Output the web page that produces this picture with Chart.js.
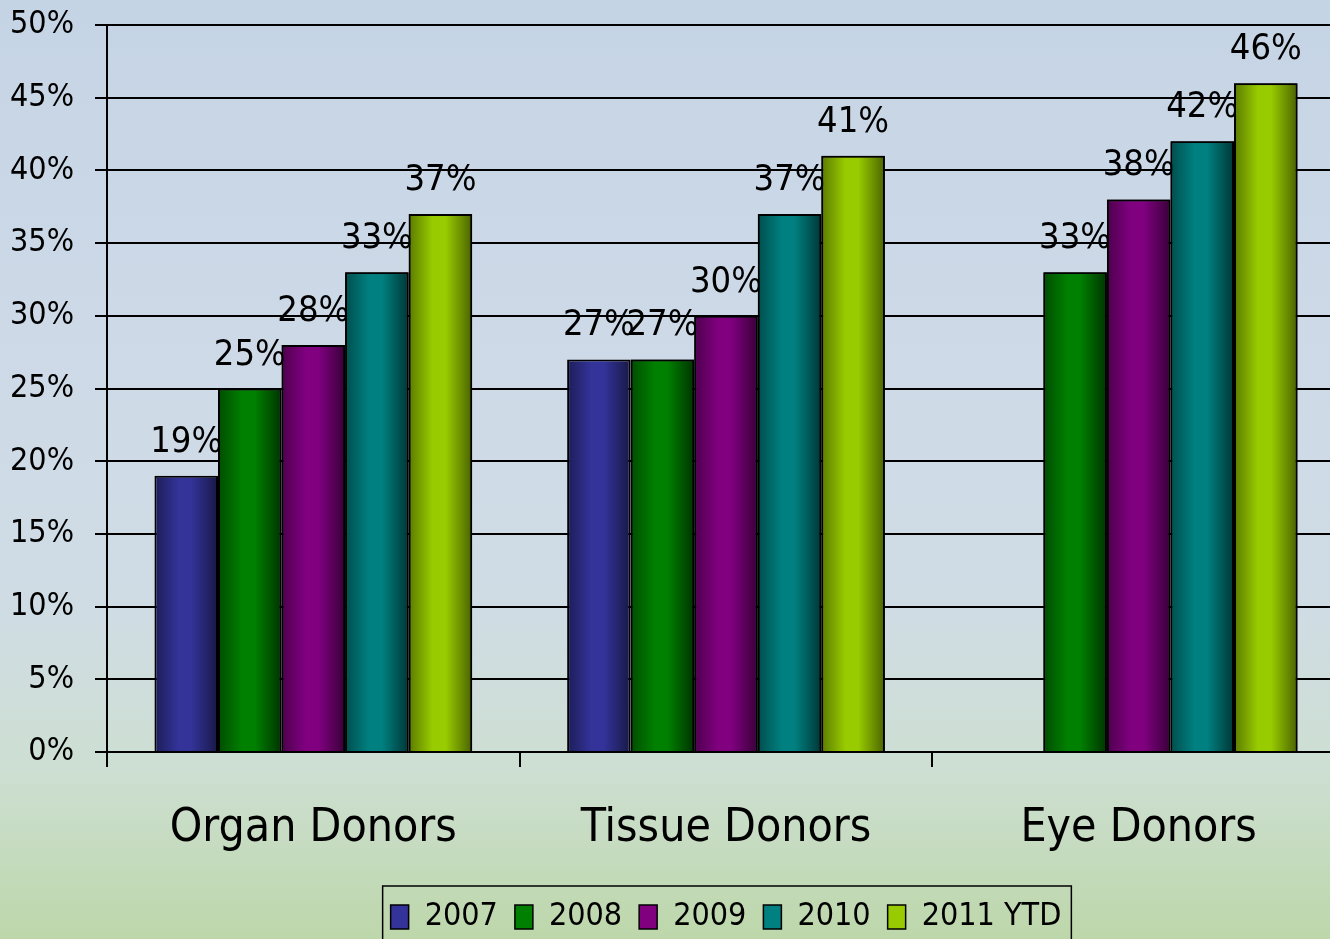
<!DOCTYPE html>
<html lang="en">
  <head>
    <meta charset="UTF-8" />
    <title>Donor registration</title>
    <script src="https://cdn.jsdelivr.net/npm/chart.js@4.4.0/dist/chart.umd.min.js"></script>
    <style>
      html, body { margin: 0; padding: 0; width: 1330px; height: 939px; overflow: hidden; }
      body {
        background: linear-gradient(to bottom, #c5d4e5 0%, #cdd9e7 35%, #d0dce4 65%, #cddfd2 82%, #bdd7aa 100%);
      }
      #wrap { position: absolute; left: 0; top: 0; width: 1345px; height: 943px; }
    </style>
  </head>
  <body>
    <div id="wrap">
      <canvas id="myChart" width="1345" height="943"></canvas>
    </div>

    <script>
// chart data
const categories = ['Organ Donors', 'Tissue Donors', 'Eye Donors'];
const seriesNames = ['2007', '2008', '2009', '2010', '2011 YTD'];
const v2007 = [19, 27, null];
const v2008 = [25, 27, 33];
const v2009 = [28, 30, 38];
const v2010 = [33, 37, 42];
const v2011 = [37, 41, 46];
const yTicks = [0, 5, 10, 15, 20, 25, 30, 35, 40, 45, 50];

// left edge / middle / right edge shades for the cylinder look
const shades = [
  ['#1d1d58', '#333399', '#181846'],
  ['#004d00', '#008000', '#003300'],
  ['#4d004d', '#800080', '#380038'],
  ['#004e4e', '#008080', '#003636'],
  ['#5b7a00', '#99cc00', '#4a6300']
];

const FONT = '"DejaVu Sans Condensed", "Liberation Sans", sans-serif';
const CAT_PCT = 0.77;

function barFill(c) {
  const s = shades[c.datasetIndex];
  if (c.type !== 'data') return s[1];
  const chart = c.chart;
  const x = chart.scales.x;
  if (!x || !x.width) return s[1];
  const cat = x.width / categories.length;
  const bw = cat * CAT_PCT / seriesNames.length;
  const left = x.getPixelForValue(c.dataIndex) - cat * CAT_PCT / 2 + c.datasetIndex * bw;
  const g = chart.ctx.createLinearGradient(left, 0, left + bw, 0);
  g.addColorStop(0, s[0]);
  g.addColorStop(0.38, s[1]);
  g.addColorStop(0.58, s[1]);
  g.addColorStop(1, s[2]);
  return g;
}

// labels above bars; next series bars are painted over the previous labels (like the original)
const barLabels = {
  id: 'barLabels',
  afterDatasetsDraw(chart) {
    const ctx = chart.ctx;
    const area = chart.chartArea;
    chart.data.datasets.forEach((ds, i) => {
      const meta = chart.getDatasetMeta(i);
      if (i > 0) {
        ctx.save();
        ctx.beginPath();
        ctx.rect(area.left, area.top, area.right - area.left, area.bottom - area.top);
        ctx.clip();
        meta.data.forEach((el, j) => { if (ds.data[j] != null) el.draw(ctx, area); });
        ctx.restore();
      }
      ctx.save();
      ctx.font = '36px ' + FONT;
      ctx.fillStyle = '#000';
      ctx.textAlign = 'center';
      ctx.textBaseline = 'alphabetic';
      meta.data.forEach((el, j) => {
        const v = ds.data[j];
        if (v == null) return;
        ctx.fillText(v + '%', el.x, el.y - 24);
      });
      ctx.restore();
    });
  }
};

// frame around the legend
const legendFrame = {
  id: 'legendFrame',
  afterDraw(chart) {
    const lg = chart.legend;
    if (!lg || !lg.legendHitBoxes.length) return;
    const hb = lg.legendHitBoxes;
    const first = hb[0], last = hb[hb.length - 1];
    const ctx = chart.ctx;
    ctx.save();
    ctx.strokeStyle = '#000';
    ctx.lineWidth = 1.5;
    ctx.strokeRect(first.left - 8, first.top - 15, last.left + last.width - first.left + 18, 100);
    ctx.restore();
  }
};

const ctx = document.getElementById('myChart').getContext('2d');
const myChart = new Chart(ctx, {
  type: 'bar',
  data: {
    labels: categories,
    datasets: [v2007, v2008, v2009, v2010, v2011].map((vals, i) => ({
      label: seriesNames[i],
      data: vals,
      backgroundColor: barFill,
      borderColor: '#000',
      borderWidth: 2,
      categoryPercentage: CAT_PCT,
      barPercentage: 1
    }))
  },
  options: {
    responsive: false,
    animation: false,
    layout: { padding: 0 },
    plugins: {
      tooltip: { enabled: false },
      legend: {
        position: 'bottom',
        fullSize: false,
        labels: {
          color: '#000',
          font: { family: FONT, size: 32 },
          boxWidth: 18,
          boxHeight: 24,
          padding: 17,
          generateLabels(chart) {
            const items = Chart.defaults.plugins.legend.labels.generateLabels(chart);
            items.forEach((it, i) => { it.fillStyle = shades[i][1]; it.lineWidth = 1.5; });
            return items;
          }
        }
      }
    },
    scales: {
      x: {
        grid: {
          offset: true,
          drawOnChartArea: false,
          drawTicks: true,
          tickLength: 15,
          color: '#000',
          lineWidth: 2
        },
        border: { color: '#000', width: 2 },
        ticks: {
          color: '#000',
          font: { family: FONT, size: 46 },
          padding: 34
        },
        afterFit(s) { s.height = 132; }
      },
      y: {
        min: 0,
        max: 50,
        afterBuildTicks(s) { s.ticks = yTicks.map(v => ({ value: v })); },
        grid: {
          color: '#000',
          lineWidth: 2,
          tickLength: 12
        },
        border: { color: '#000', width: 2 },
        ticks: {
          color: '#000',
          font: { family: FONT, size: 32 },
          padding: 21,
          callback: v => v + '%'
        },
        afterFit(s) {
          s.width = 107;
          s.paddingTop = 25;
          s.paddingBottom = 0;
        }
      }
    }
  },
  plugins: [barLabels, legendFrame]
});
    </script>
  </body>
</html>
